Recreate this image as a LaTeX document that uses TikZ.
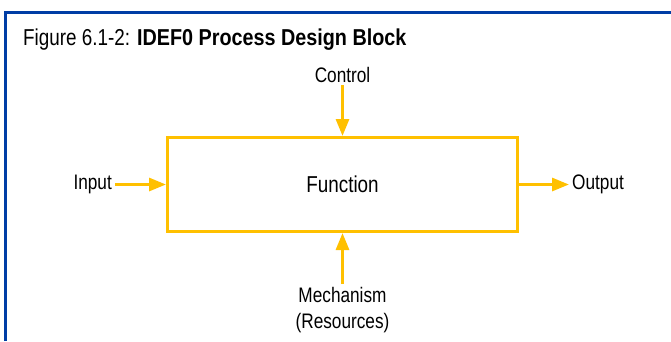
\documentclass[tikz,border=0pt]{standalone}
\usepackage{fontspec}
\setmainfont[FakeStretch=0.82, BoldFeatures={FakeStretch=0.86}]{Liberation Sans}
\usetikzlibrary{arrows.meta}
\definecolor{idefgold}{RGB}{255,192,0}
\definecolor{framblue}{RGB}{0,61,165}
\begin{document}
\begin{tikzpicture}[x=1pt,y=1pt,
  lbl/.style={inner sep=3pt, font=\fontsize{21}{26}\selectfont, text=black},
  fnbox/.style={draw=idefgold, line width=3pt, minimum width=350pt, minimum height=94pt, inner sep=0pt, font=\fontsize{23}{27}\selectfont},
  arr/.style={draw=idefgold, line width=3pt, -{Triangle[length=17pt,width=13pt]}},
  frameline/.style={draw=framblue, line width=3pt}]
\useasboundingbox (0,0) rectangle (671,-341);
\draw[frameline] (5.5,-341) -- (5.5,-12) -- (671,-12);
\node[anchor=base west, inner sep=0pt, font=\fontsize{23}{27}\selectfont] (title) at (23,-45) {Figure 6.1-2: \textbf{IDEF0 Process Design Block}};
\node[fnbox] (fn) at (342.5,-184.5) {Function};
\node[lbl, anchor=base] (control) at (342.5,-82) {Control};
\node[lbl, anchor=east] (input) at (115,-184.5) {Input};
\node[lbl, anchor=west] (output) at (569,-184.5) {Output};
\node[lbl, anchor=north, align=center] (mech) at (342.5,-284) {Mechanism\\(Resources)};
\draw[arr] (control.south) -- (fn.north);
\draw[arr] (input) -- (fn);
\draw[arr] (fn) -- (output);
\draw[arr] (mech.north) -- (fn.south);
\end{tikzpicture}
\end{document}
